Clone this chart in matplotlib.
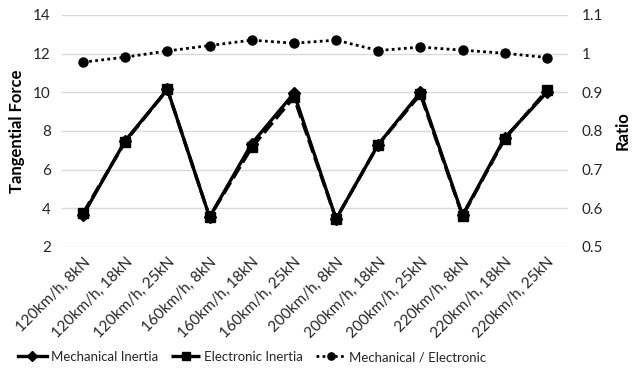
import matplotlib.pyplot as plt

plt.rcParams['font.family'] = ['Lato', 'DejaVu Sans']

categories = ['120km/h, 8kN', '120km/h, 18kN', '120km/h, 25kN',
              '160km/h, 8kN', '160km/h, 18kN', '160km/h, 25kN',
              '200km/h, 8kN', '200km/h, 18kN', '200km/h, 25kN',
              '220km/h, 8kN', '220km/h, 18kN', '220km/h, 25kN']
mechanical = [3.65, 7.5, 10.15, 3.55, 7.35, 9.95, 3.45, 7.3, 10.0, 3.65, 7.65, 10.0]
electronic = [3.75, 7.45, 10.15, 3.55, 7.15, 9.75, 3.45, 7.3, 9.9, 3.6, 7.6, 10.1]
ratio = [0.978, 0.991, 1.007, 1.021, 1.035, 1.027, 1.035, 1.008, 1.017, 1.009, 1.001, 0.99]

x = list(range(len(categories)))

fig = plt.figure(figsize=(6.37, 3.72), dpi=100)
ax = fig.add_axes([62 / 637, 1 - 247 / 372, (568 - 62) / 637, (247 - 15) / 372])
ax2 = ax.twinx()

l1, = ax.plot(x, mechanical, color='black', lw=2.4, marker='D', markersize=6,
              label='Mechanical Inertia')
l2, = ax.plot(x, electronic, color='black', lw=2.4, ls=(0, (4, 1.5)), marker='s',
              markersize=7, label='Electronic Inertia')
l3, = ax2.plot(x, ratio, color='black', lw=2, ls=(0, (1, 1.2)), marker='o',
               markersize=6.5, label='Mechanical / Electronic')

ax.set_xlim(-0.5, len(categories) - 0.5)
ax.set_ylim(2, 14)
ax.set_yticks(range(2, 15, 2))
ax2.set_ylim(0.5, 1.1)
ax2.set_yticks([0.5, 0.6, 0.7, 0.8, 0.9, 1.0, 1.1])
ax2.set_yticklabels(['0.5', '0.6', '0.7', '0.8', '0.9', '1', '1.1'])

ax.grid(axis='y', color='#d9d9d9', lw=1)
ax.set_axisbelow(True)
for a in (ax, ax2):
    for s in a.spines.values():
        s.set_visible(False)
    a.tick_params(length=0, labelsize=11, colors='#262626')

ax.set_xticks(x)
ax.set_xticklabels(categories, rotation=45, ha='right', rotation_mode='anchor')
ax.tick_params(axis='x', pad=6)
ax.tick_params(axis='y', pad=8)
ax2.tick_params(axis='y', pad=10)

ax.set_ylabel('Tangential Force', fontsize=12, fontweight='bold', labelpad=6)
ax2.set_ylabel('Ratio', fontsize=12, fontweight='bold', labelpad=8)

fig.legend(handles=[l1, l2, l3], loc='center', bbox_to_anchor=(252 / 637, 1 - 357 / 372),
           ncol=3, frameon=False, fontsize=9.5, handlelength=2.2, columnspacing=1.0,
           handletextpad=0.3, markerscale=0.8, labelcolor='#262626')

fig.savefig('out.png', dpi=100)
